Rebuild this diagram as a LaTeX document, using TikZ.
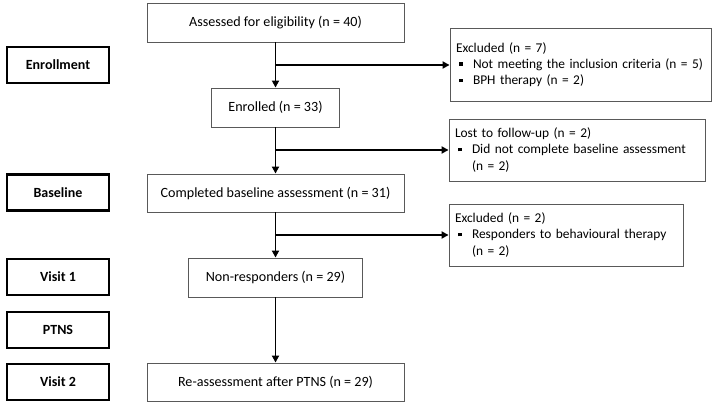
\documentclass[tikz,border=0pt]{standalone}
\usepackage{fontspec}
\setmainfont{Carlito}
\usetikzlibrary{arrows.meta}
\newcommand\bul{\makebox[17pt][l]{\hspace{3pt}\rule[2.5pt]{3.6pt}{3.6pt}}}
\newcommand\hang{\hspace*{17pt}}
\tikzset{
  mainbox/.style={draw=black!65, line width=0.9pt, fill=white, minimum height=38pt, inner sep=0pt, font=\fontsize{14.1}{16.3}\selectfont, align=center},
  sidebox/.style={draw=black!65, line width=0.9pt, fill=white, inner xsep=6pt, inner ysep=0pt, font=\fontsize{13.4}{16.3}\selectfont, align=left},
  labelbox/.style={draw=black, line width=2.4pt, minimum width=102pt, minimum height=36pt, inner sep=0pt, font=\fontsize{14}{16.3}\selectfont\bfseries},
  flow/.style={line width=1.8pt, -{Triangle[length=7pt,width=7pt]}}
}
\begin{document}
\begin{tikzpicture}[x=1pt,y=-1pt]
\useasboundingbox (0,0) rectangle (715,409);
% main column
\node[mainbox, minimum width=257pt, minimum height=39pt] (a) at (275.5,22.5) {Assessed for eligibility (n = 40)};
\node[mainbox, minimum width=128pt, minimum height=39pt] (b) at (275.5,107.5) {Enrolled (n = 33)};
\node[mainbox, minimum width=257pt] (c) at (275.5,193) {Completed baseline assessment (n = 31)};
\node[mainbox, minimum width=174pt, minimum height=39pt] (d) at (275.5,277.5) {Non-responders (n = 29)};
\node[mainbox, minimum width=257pt] (e) at (275.5,382) {Re-assessment after PTNS (n = 29)};
% side boxes
\node[sidebox, text width=249pt, minimum height=73pt] (x1) at (580.5,64.5) {Excluded (n = 7)\\ \bul Not meeting the inclusion criteria (n = 5)\\ \bul BPH therapy (n = 2)};
\node[sidebox, text width=244pt, minimum height=62pt] (x2) at (577,150) {Lost to follow-up (n = 2)\\ \bul Did not complete baseline assessment\\ \hang(n = 2)};
\node[sidebox, text width=222pt, minimum height=62pt] (x3) at (566,235) {Excluded (n = 2)\\ \bul Responders to behavioural therapy\\ \hang(n = 2)};
% stage labels
\node[labelbox] (l1) at (58,65) {Enrollment};
\node[labelbox] (l2) at (58,192.5) {Baseline};
\node[labelbox] (l3) at (58,277) {Visit 1};
\node[labelbox] (l4) at (58,330) {PTNS};
\node[labelbox] (l5) at (58,382) {Visit 2};
% junctions
\coordinate (j1) at (275.5,65);
\coordinate (j2) at (275.5,150);
\coordinate (j3) at (275.5,235);
% arrows
\draw[flow] (a.south) -- (b.north);
\draw[flow] (b.south) -- (c.north);
\draw[flow] (c.south) -- (d.north);
\draw[flow] (d.south) -- (e.north);
\draw[flow] (j1) -- (j1 -| x1.west);
\draw[flow] (j2) -- (j2 -| x2.west);
\draw[flow] (j3) -- (j3 -| x3.west);
\end{tikzpicture}
\end{document}
